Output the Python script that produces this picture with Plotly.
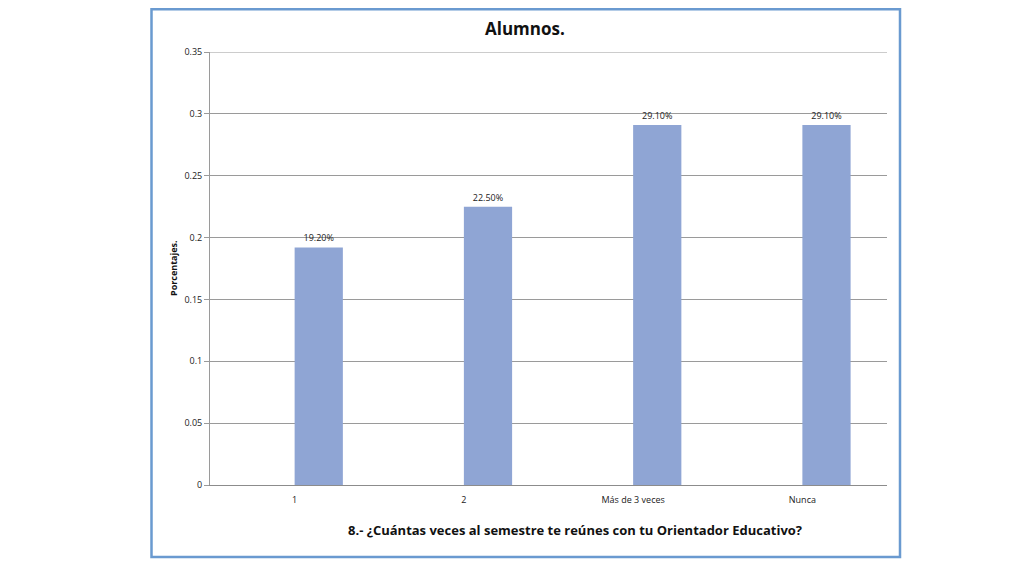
import plotly.graph_objects as go

categories = ["1", "2", "Más de 3 veces", "Nunca"]
values = [0.192, 0.225, 0.291, 0.291]
y_max = 0.35

OFF = 8  # page body margin
W, H = 1024 - OFF, 576 - OFF
L, R, T, B = 210 - OFF, 887 - OFF, 52 - OFF, 485 - OFF
pw, ph = R - L, B - T

def px_x(x):
    return (x - OFF - L) / pw

def px_y(y):
    return (B - (y - OFF)) / ph

FONT = "Open Sans"
GRID = "#9A9A9A"

fig = go.Figure(go.Bar(
    x=categories, y=values,
    width=0.285, offset=0,
    marker=dict(color="#8FA5D4", line=dict(width=0)),
    texttemplate="%{y:.2%}", textposition="outside",
    textfont=dict(size=9, color="#222222", family=FONT),
    cliponaxis=False,
))

fig.update_layout(
    width=W, height=H,
    margin=dict(l=L, r=W - R, t=T, b=H - B, pad=0),
    paper_bgcolor="white", plot_bgcolor="white",
    showlegend=False,
    font=dict(family=FONT, color="#222222"),
    xaxis=dict(
        showgrid=False, showline=True, linecolor="#8C8C8C", linewidth=1,
        ticks="", tickfont=dict(size=9, color="#222222"),
        ticklabelstandoff=6,
        fixedrange=True,
    ),
    yaxis=dict(
        range=[0, y_max], dtick=0.05, tick0=0,
        showgrid=True, gridcolor=GRID, gridwidth=1,
        showline=True, linecolor=GRID, linewidth=1,
        ticks="outside", ticklen=5, tickcolor=GRID,
        tickfont=dict(size=9, color="#222222"),
        zeroline=False,
    ),
    shapes=[
        dict(type="line", xref="paper", yref="y", x0=0, x1=1, y0=y_max, y1=y_max,
             line=dict(color=GRID, width=1)),
        dict(type="rect", xref="paper", yref="paper",
             x0=px_x(151.5), x1=px_x(900), y0=px_y(557), y1=px_y(9.3),
             line=dict(color="#6A9AD0", width=2.5), fillcolor="rgba(0,0,0,0)"),
    ],
    annotations=[
        dict(text="<b>Alumnos.</b>", xref="paper", yref="paper",
             x=px_x(525), y=px_y(29), xanchor="center", yanchor="middle",
             showarrow=False,
             font=dict(size=17, color="#111111", family=FONT)),
        dict(text="<b>8.- ¿Cuántas veces al semestre te reúnes con tu Orientador Educativo?</b>",
             xref="paper", yref="paper", x=px_x(575), y=px_y(530),
             xanchor="center", yanchor="middle", showarrow=False,
             font=dict(size=13, color="#111111", family=FONT)),
        dict(text="<b>Porcentajes.</b>", xref="paper", yref="paper",
             x=px_x(173), y=px_y(268), xanchor="center", yanchor="middle",
             showarrow=False, textangle=-90,
             font=dict(size=9, color="#111111", family=FONT)),
    ],
)

fig.write_html("out.html")
